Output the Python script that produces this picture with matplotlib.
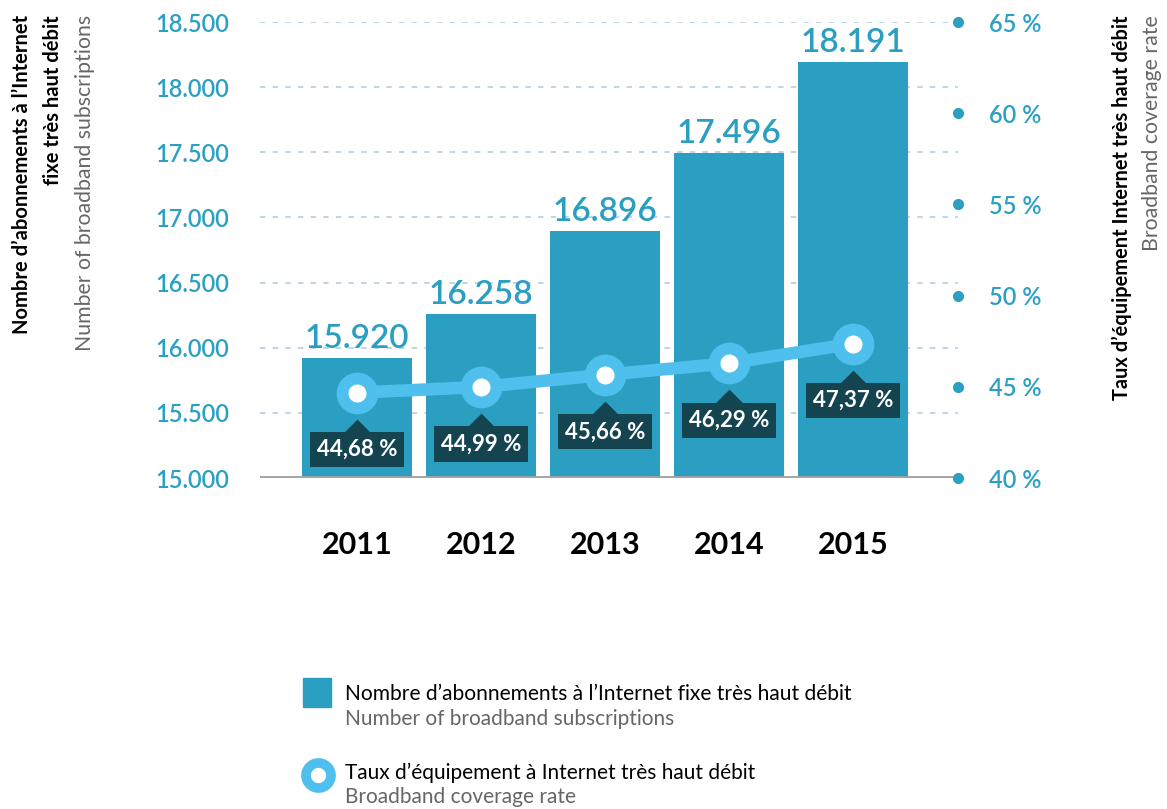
import matplotlib
matplotlib.use("Agg")
import matplotlib.pyplot as plt
import matplotlib.transforms as mtransforms
from matplotlib.lines import Line2D
from matplotlib.patches import Rectangle
from matplotlib.path import Path as MPath

plt.rcParams["font.family"] = ["Lato", "DejaVu Sans"]

# data
years = ["2011", "2012", "2013", "2014", "2015"]
subscriptions = [15920, 16258, 16896, 17496, 18191]
coverage = [44.68, 44.99, 45.66, 46.29, 47.37]
left_ticks = [15000, 15500, 16000, 16500, 17000, 17500, 18000, 18500]
right_ticks = [40, 45, 50, 55, 60, 65]

BAR = "#2b9fc1"
LINE = "#4fc0ee"
DARK = "#14444f"
TICK = "#2ba0c3"
GRID = "#b9d3e3"


def fr_thousands(v):
    return f"{v:,}".replace(",", ".")


fig = plt.figure(figsize=(11.67, 8.09), dpi=100)
W, H = 1167, 809
ax = fig.add_axes([260 / W, 1 - 478 / H, 698 / W, 456 / H])
x = list(range(len(years)))

# bars
ax.bar(x, subscriptions, width=0.887, color=BAR, zorder=2)
ax.set_xlim(-0.782, 4.847)
ax.set_ylim(15000, 18500)
for xi, v in zip(x, subscriptions):
    ax.annotate(fr_thousands(v), (xi, v), xytext=(0, 3), textcoords="offset points",
                ha="center", va="bottom", fontsize=24, fontweight="semibold", color=BAR)

# grid + baseline
for t in left_ticks[1:]:
    ax.axhline(t, color=GRID, lw=1.3, ls=(0, (3, 4)), zorder=1)
ax.axhline(15000, color="#a3a3a3", lw=3.5, zorder=3, xmax=0.995)

for s in ax.spines.values():
    s.set_visible(False)
ax.set_yticks(left_ticks)
ax.set_yticklabels([fr_thousands(t) for t in left_ticks])
ax.tick_params(axis="y", length=0, pad=22, labelsize=17, labelcolor=TICK)
for lab in ax.get_yticklabels():
    lab.set_fontweight("semibold")
ax.set_xticks(x)
ax.set_xticklabels(years)
ax.tick_params(axis="x", length=0, pad=38, labelsize=22)
for lab in ax.get_xticklabels():
    lab.set_fontweight("bold")

# right axis: coverage rate
ax2 = ax.twinx()
ax2.set_ylim(40, 65)
for s in ax2.spines.values():
    s.set_visible(False)
ax2.set_yticks(right_ticks)
ax2.set_yticklabels([f"{t} %" for t in right_ticks])
ax2.tick_params(axis="y", length=0, pad=22, labelsize=17, labelcolor=TICK)
for lab in ax2.get_yticklabels():
    lab.set_fontweight("semibold")
dot_trans = mtransforms.blended_transform_factory(ax2.transAxes, ax2.transData)
ax2.plot([1.0] * len(right_ticks), right_ticks, "o", ms=7, color=TICK,
         transform=dot_trans, clip_on=False)

ax2.plot(x, coverage, "-", color=LINE, lw=9, zorder=4, solid_capstyle="round")
ax2.plot(x, coverage, "o", ms=21.5, mfc="white", mec=LINE, mew=8.5, zorder=5)

# pointer labels under the line
tri = MPath([(-1, 0), (1, 0), (0, 1), (-1, 0)],
            [MPath.MOVETO, MPath.LINETO, MPath.LINETO, MPath.CLOSEPOLY])
tri_trans = mtransforms.offset_copy(ax2.transData, fig=fig, x=0, y=-40, units="dots")
ax2.plot(x, coverage, ls="none", marker=tri, ms=20, color=DARK, mew=0,
         transform=tri_trans, zorder=6)
for xi, c in zip(x, coverage):
    ax2.annotate(f"{c:.2f} %".replace(".", ","), (xi, c), xytext=(0, -41),
                 textcoords="offset points", ha="center", va="center",
                 fontsize=16, fontweight="bold", color="white", zorder=7,
                 bbox=dict(boxstyle="square,pad=0.32", fc=DARK, ec="none"))

# axis titles
fig.text(22 / W, 1 - 15 / H, "Nombre d’abonnements à l’Internet", rotation=90,
         ha="center", va="top", fontsize=14.5, fontweight="bold", color="black")
fig.text(53 / W, 1 - 15 / H, "fixe très haut débit", rotation=90,
         ha="center", va="top", fontsize=14.5, fontweight="bold", color="black")
fig.text(85 / W, 1 - 15 / H, "Number of broadband subscriptions", rotation=90,
         ha="center", va="top", fontsize=15.3, color="#666666")
fig.text(1122 / W, 1 - 15 / H, "Taux d’équipement Internet très haut débit", rotation=90,
         ha="center", va="top", fontsize=14.4, fontweight="bold", color="black")
fig.text(1152 / W, 1 - 15 / H, "Broadband coverage rate", rotation=90,
         ha="center", va="top", fontsize=15.3, color="#666666")

# legend
fig.add_artist(Rectangle((303 / W, 1 - 707 / H), 28 / W, 29 / H,
                         transform=fig.transFigure, color=BAR))
fig.text(345 / W, 1 - 694 / H, "Nombre d’abonnements à l’Internet fixe très haut débit",
         ha="left", va="center", fontsize=15.1, color="black")
fig.text(345 / W, 1 - 719 / H, "Number of broadband subscriptions",
         ha="left", va="center", fontsize=15, color="#666666")
fig.add_artist(Line2D([318 / W], [1 - 775 / H], transform=fig.transFigure,
                      marker="o", ms=18, mfc="white", mec=LINE, mew=7))
fig.text(345 / W, 1 - 773 / H, "Taux d’équipement à Internet très haut débit",
         ha="left", va="center", fontsize=15, color="black")
fig.text(345 / W, 1 - 797 / H, "Broadband coverage rate",
         ha="left", va="center", fontsize=15, color="#666666")

fig.savefig("out.png", dpi=100)
